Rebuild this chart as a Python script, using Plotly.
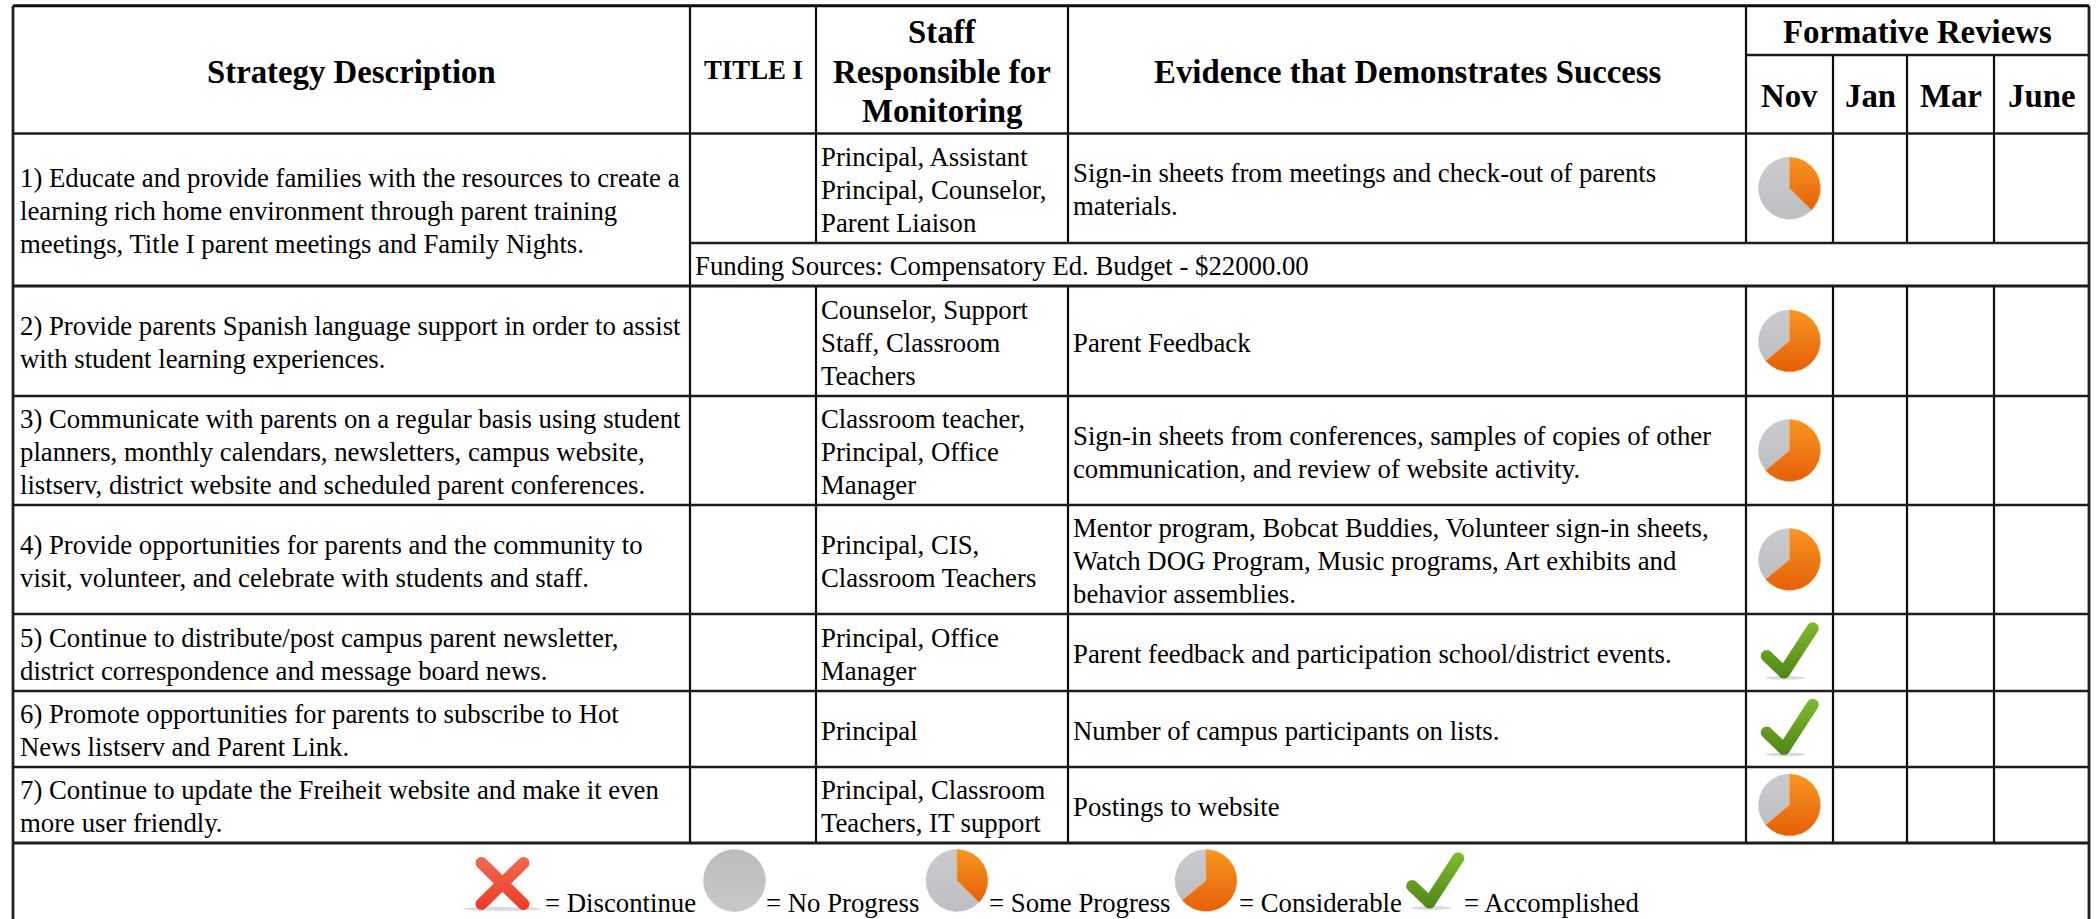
import numpy as np
import plotly.graph_objects as go

# ---------- content ----------
HEAD_STRATEGY = ["Strategy Description"]
HEAD_TITLE = ["TITLE I"]
HEAD_STAFF = ["Staff", "Responsible for", "Monitoring"]
HEAD_EVIDENCE = ["Evidence that Demonstrates Success"]
HEAD_GROUP = ["Formative Reviews"]
MONTHS = ["Nov", "Jan", "Mar", "June"]

strategies = [
    ["1) Educate and provide families with the resources to create a",
     "learning rich home environment through parent training",
     "meetings, Title I parent meetings and Family Nights."],
    ["2) Provide parents Spanish language support in order to assist",
     "with student learning experiences."],
    ["3) Communicate with parents on a regular basis using student",
     "planners, monthly calendars, newsletters, campus website,",
     "listserv, district website and scheduled parent conferences."],
    ["4) Provide opportunities for parents and the community to",
     "visit, volunteer, and celebrate with students and staff."],
    ["5) Continue to distribute/post campus parent newsletter,",
     "district correspondence and message board news."],
    ["6) Promote opportunities for parents to subscribe to Hot",
     "News listserv and Parent Link."],
    ["7) Continue to update the Freiheit website and make it even",
     "more user friendly."],
]
staff = [
    ["Principal, Assistant", "Principal, Counselor,", "Parent Liaison"],
    ["Counselor, Support", "Staff, Classroom", "Teachers"],
    ["Classroom teacher,", "Principal, Office", "Manager"],
    ["Principal, CIS,", "Classroom Teachers"],
    ["Principal, Office", "Manager"],
    ["Principal"],
    ["Principal, Classroom", "Teachers, IT support"],
]
evidence = [
    ["Sign-in sheets from meetings and check-out of parents", "materials."],
    ["Parent Feedback"],
    ["Sign-in sheets from conferences, samples of copies of other",
     "communication, and review of website activity."],
    ["Mentor program, Bobcat Buddies, Volunteer sign-in sheets,",
     "Watch DOG Program, Music programs, Art exhibits and",
     "behavior assemblies."],
    ["Parent feedback and participation school/district events."],
    ["Number of campus participants on lists."],
    ["Postings to website"],
]
funding = "Funding Sources: Compensatory Ed. Budget - $22000.00"
nov_status = ["some", "considerable", "considerable", "considerable",
              "accomplished", "accomplished", "considerable"]
progress_share = {"none": 0.0, "some": 0.375, "considerable": 0.64}
legend_items = ["= Discontinue", "= No Progress", "= Some Progress",
                "= Considerable", "= Accomplished"]

# ---------- layout (pixels) ----------
W, H = 2098, 919
X_LEFT, X_TITLE, X_STAFF, X_EVID, X_NOV, X_JAN, X_MAR, X_JUNE, X_RIGHT = (
    13, 690, 816, 1068, 1746, 1833, 1907, 1994, 2089)
Y_TOP, Y_SUB, Y_HEAD, Y_FUND, Y_R2 = 5.7, 55, 133.5, 243, 286
ROW_EDGES = [133.5, 286, 396, 505, 614, 691, 767, 843]
LEG_X = [544, 765, 988, 1238, 1463]
BODY, BOLD, BIG = 26.75, 26.8, 32.8
PITCH, BIG_PITCH = 33, 39.5
FONT = "Liberation Serif"
TXT = "#000000"

fig = go.Figure()
shapes, notes = [], []


def hline(y, x0, x1, w=2.6, c="#1c1c1c"):
    shapes.append(dict(type="line", xref="x", yref="y", x0=x0, x1=x1, y0=y, y1=y,
                       line=dict(color=c, width=w)))


def vline(x, y0, y1, w=2.2, c="#0c0c0c"):
    shapes.append(dict(type="line", xref="x", yref="y", x0=x, x1=x, y0=y0, y1=y1,
                       line=dict(color=c, width=w)))


def text(s, x, y, size=BODY, bold=False, anchor="left"):
    notes.append(dict(text=f"<b>{s}</b>" if bold else s, x=x, y=y, xref="x", yref="y",
                      xanchor=anchor, yanchor="middle", showarrow=False, borderpad=0,
                      font=dict(family=FONT, size=size, color=TXT)))


def block(lines, x, top, bottom, size=BODY, pitch=PITCH, bold=False, anchor="left", dy=1.5):
    mid = (top + bottom) / 2 + dy
    n = len(lines)
    for i, s in enumerate(lines):
        text(s, x, mid + (i - (n - 1) / 2) * pitch, size, bold, anchor)


def poly(xs, ys, top, bot, edge=None, opacity=1.0, edge_w=1, span=None):
    start, stop = span if span else (float(min(ys)), float(max(ys)))
    fig.add_trace(go.Scatter(
        x=xs, y=ys, mode="lines", fill="toself", hoverinfo="skip", showlegend=False,
        opacity=opacity,
        line=dict(color=edge or "rgba(0,0,0,0)", width=edge_w if edge else 0),
        fillgradient=dict(type="vertical", start=start, stop=stop,
                          colorscale=[[0, top], [1, bot]])))


def stroke(a, b, w):
    """Outline of one thick segment with round ends."""
    a, b = np.array(a, float), np.array(b, float)
    r = w / 2
    d = (b - a) / np.linalg.norm(b - a)
    base = np.arctan2(d[1], d[0])
    t = np.linspace(-np.pi / 2, np.pi / 2, 14)
    pts = [b + r * np.array([np.cos(base + k), np.sin(base + k)]) for k in t]
    pts += [a + r * np.array([np.cos(base + np.pi + k), np.sin(base + np.pi + k)]) for k in t]
    pts.append(pts[0])
    return [p[0] for p in pts], [p[1] for p in pts]


def shadow(cx, cy, half):
    t = np.linspace(0, 2 * np.pi, 40)
    poly(list(cx + half * np.cos(t)), list(cy + 2 * np.sin(t)), "#c6c9d2", "#d8dae0", opacity=0.8)


def pie_icon(cx, cy, share, r=31):
    t = np.linspace(0, 2 * np.pi, 121)
    if share <= 0:
        poly(list(cx + r * np.sin(t)), list(cy - r * np.cos(t)), "#bcbcbc", "#c8c8c8",
             edge="rgba(190,190,190,0.45)")
        return
    a = 2 * np.pi * share
    t1 = np.linspace(a, 2 * np.pi, 90)
    poly([cx] + list(cx + r * np.sin(t1)) + [cx], [cy] + list(cy - r * np.cos(t1)) + [cy],
         "#c9cbce", "#bdbfc2", edge="rgba(195,197,200,0.45)")
    t2 = np.linspace(0, a, 90)
    poly([cx] + list(cx + r * np.sin(t2)) + [cx], [cy] + list(cy - r * np.cos(t2)) + [cy],
         "#f8961f", "#e5600a", edge="rgba(248,170,90,0.5)")


def check_icon(cx, cy):
    """cx, cy: centre of the icon box."""
    shadow(cx - 4, cy + 25.5, 20)
    elbow = (cx - 5.5, cy + 20)
    span = (cy - 30.0, cy + 26.5)
    for a, b in [((cx - 22.8, cy + 3.5), elbow), (elbow, (cx + 23.2, cy - 24.2))]:
        xs, ys = stroke(a, b, 12)
        poly(xs, ys, "#7fbb2e", "#4f8415", span=span)


def cross_icon(cx, cy):
    shadow(cx, cy + 26, 40)
    span = (cy - 26.0, cy + 27)
    for a, b in [((cx - 21, cy - 20), (cx + 21, cy + 21)), ((cx + 21, cy - 20), (cx - 21, cy + 21))]:
        xs, ys = stroke(a, b, 12)
        poly(xs, ys, "#ee6a50", "#ee3a26", span=span)


# ---------- grid ----------
for x in (X_LEFT, X_RIGHT):
    vline(x, Y_TOP, H, w=2.8, c="#222222")
vline(X_TITLE, Y_TOP, ROW_EDGES[-1])
for x in (X_STAFF, X_EVID, X_NOV):
    vline(x, Y_TOP, Y_FUND)
    vline(x, Y_R2, ROW_EDGES[-1])
for x in (X_JAN, X_MAR, X_JUNE):
    vline(x, Y_SUB, Y_FUND)
    vline(x, Y_R2, ROW_EDGES[-1])
hline(Y_TOP, X_LEFT, X_RIGHT, w=3, c="#0c0c0c")
hline(Y_SUB, X_NOV, X_RIGHT)
hline(Y_FUND, X_TITLE, X_RIGHT)
for y in ROW_EDGES:
    hline(y, X_LEFT, X_RIGHT, w=3 if y in (286, 843) else 2.6)

# ---------- header ----------
block(HEAD_STRATEGY, (X_LEFT + X_TITLE) / 2, Y_TOP, Y_HEAD, BIG, BIG_PITCH, True, "center", 2)
block(HEAD_TITLE, (X_TITLE + X_STAFF) / 2, Y_TOP, Y_HEAD, BOLD, BIG_PITCH, True, "center", 0)
block(HEAD_STAFF, (X_STAFF + X_EVID) / 2, Y_TOP, Y_HEAD, BIG, BIG_PITCH, True, "center", 2)
block(HEAD_EVIDENCE, (X_EVID + X_NOV) / 2, Y_TOP, Y_HEAD, BIG, BIG_PITCH, True, "center", 2)
block(HEAD_GROUP, (X_NOV + X_RIGHT) / 2, Y_TOP, Y_SUB, BIG, BIG_PITCH, True, "center", 2)
for m, a, b in zip(MONTHS, (X_NOV, X_JAN, X_MAR, X_JUNE), (X_JAN, X_MAR, X_JUNE, X_RIGHT)):
    block([m], (a + b) / 2, Y_SUB, Y_HEAD, BIG, BIG_PITCH, True, "center", 2)

# ---------- body ----------
for i in range(len(strategies)):
    top, bot = ROW_EDGES[i], ROW_EDGES[i + 1]
    sub = Y_FUND if i == 0 else bot
    block(strategies[i], X_LEFT + 5.5, top, bot)
    block(staff[i], X_STAFF + 4, top, sub)
    block(evidence[i], X_EVID + 4, top, sub)
    cx, cy = (X_NOV + X_JAN) / 2, (top + sub) / 2
    if nov_status[i] == "accomplished":
        check_icon(cx, cy)
    else:
        pie_icon(cx, cy, progress_share[nov_status[i]])
block([funding], X_TITLE + 4, Y_FUND, Y_R2)

# ---------- legend ----------
for s, x in zip(legend_items, LEG_X):
    text(s, x, 903, BODY)
LEG_CY = 880.5
cross_icon(502.5, 883)
pie_icon(734.5, LEG_CY, progress_share["none"])
pie_icon(957, LEG_CY, progress_share["some"])
pie_icon(1206, LEG_CY, progress_share["considerable"])
check_icon(1435, 882.5)

fig.update_layout(
    width=W, height=H, margin=dict(l=0, r=0, t=0, b=0),
    paper_bgcolor="#ffffff", plot_bgcolor="#ffffff", showlegend=False,
    xaxis=dict(range=[0, W], visible=False, fixedrange=True),
    yaxis=dict(range=[H, 0], visible=False, fixedrange=True),
    shapes=shapes, annotations=notes,
)
fig.write_html("out.html", config=dict(displayModeBar=False),
               post_script="document.body.style.margin='0';document.body.style.overflow='hidden';")
